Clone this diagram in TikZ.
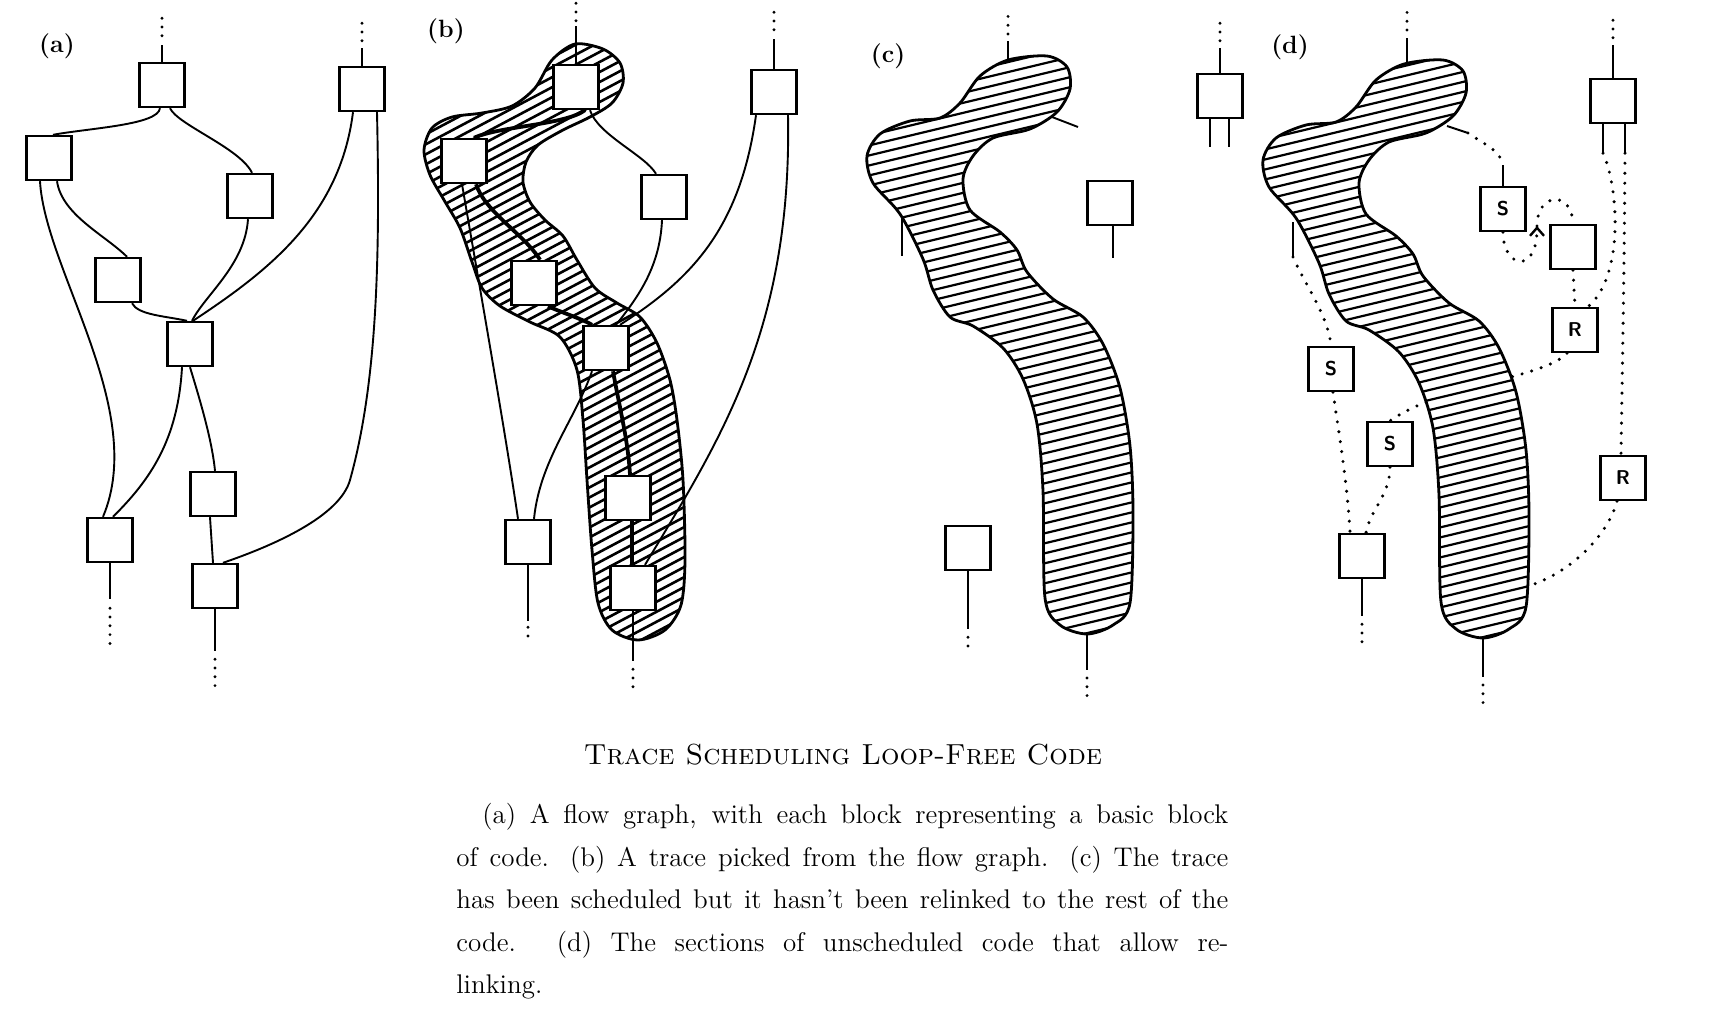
\documentclass[tikz,border=0pt]{standalone}
\usepackage{fontspec}
\usepackage{tikz}
\usetikzlibrary{arrows.meta,calc}
\tikzset{
  blk/.style={draw,fill=white,line width=1.2pt,minimum width=22.5pt,minimum height=22pt,inner sep=0pt,font=\sffamily\bfseries\fontsize{10}{12}\selectfont},
  edg/.style={line width=.95pt},
  tedg/.style={line width=1.9pt},
  dots/.style={line width=1.6pt,line cap=round,dash pattern=on 0pt off 4.4pt},
  ddots/.style={line width=1.7pt,line cap=round,dash pattern=on 0pt off 5pt},
  trc/.style={line width=1.4pt},
  hatch/.style={line width=1.1pt},
  lbl/.style={font=\bfseries\fontsize{12.5}{14}\selectfont},
  ttl/.style={font=\fontsize{14.5}{17}\selectfont},
  cpt/.style={anchor=north west,inner sep=0pt,text width=386pt,align=justify,font=\fontsize{13.5}{21.25}\selectfont},
}
% outline of the picked trace, panel (b)
\def\traceB{plot[smooth cycle] coordinates {(575,44) (603,49) (620,63) (623,83) (612,103) (590,117) (563,130) (538,145) (526,162) (523,182) (530,202) (545,220) (563,236) (577,260) (595,288) (617,303) (640,317) (657,343) (670,380) (677,420) (683,480) (685,560) (681,605) (665,630) (638,640) (612,630) (598,603) (592,550) (587,480) (583,420) (577,370) (560,337) (530,322) (500,306) (482,288) (472,262) (460,228) (444,200) (430,175) (424,150) (432,128) (452,117) (482,113) (512,106) (535,88) (552,60)}}
% outline of the scheduled trace, panels (c) and (d)
\def\traceCD{plot[smooth cycle] coordinates {(1008,60) (1047,56) (1067,67) (1070,89) (1057,112) (1030,129) (993,138) (973,156) (963,179) (970,210) (1000,232) (1017,250) (1027,272) (1053,299) (1083,317) (1103,344) (1120,388) (1130,446) (1133,513) (1130,603) (1113,625) (1087,634) (1060,625) (1045,598) (1043,491) (1037,424) (1023,379) (1003,348) (973,326) (950,317) (933,290) (923,259) (900,214) (873,183) (867,156) (880,134) (910,121) (940,118) (960,103) (980,76)}}
\begin{document}
\begin{tikzpicture}[x=0.5pt,y=-0.5pt]
  \useasboundingbox (0,0) rectangle (1718,1013);
  % ---------- (a) flow graph
  \node[lbl] (la) at (57,46) {(a)};
  \node[blk] (a1) at (162,85) {};
  \node[blk] (a2) at (362,89) {};
  \node[blk] (a3) at (49,158) {};
  \node[blk] (a4) at (250,196) {};
  \node[blk] (a5) at (118,280) {};
  \node[blk] (a6) at (190,344) {};
  \node[blk] (a7) at (213,494) {};
  \node[blk] (a8) at (110,540) {};
  \node[blk] (a9) at (215,586) {};
  \draw[edg] (a1.north) -- ++(0,-17);
  \draw[dots] (a1.north) ++(0,-26) -- ++(0,-24);
  \draw[edg] (a2.north) -- ++(0,-18);
  \draw[dots] (a2.north) ++(0,-25) -- ++(0,-22);
  \draw[edg] (a8.south) -- ++(0,36);
  \draw[dots] (a8.south) ++(0,45) -- ++(0,38);
  \draw[edg] (a9.south) -- ++(0,42);
  \draw[dots] (a9.south) ++(0,50) -- ++(0,34);
  \draw[edg] ([xshift=-1pt]a1.south) .. controls (158,125) and (90,128) .. ([xshift=2pt]a3.north);
  \draw[edg] ([xshift=4pt]a1.south) .. controls (178,125) and (240,148) .. ([xshift=1pt]a4.north);
  \draw[edg] ([xshift=-4.5pt]a2.south) .. controls (340,215) and (270,270) .. ([xshift=1.5pt]a6.north);
  \draw[edg] ([xshift=7.5pt]a2.south) .. controls (380,250) and (378,380) .. (350,480) .. controls (340,516) and (275,545) .. ([xshift=4pt]a9.north);
  \draw[edg] ([xshift=-4.5pt]a3.south) .. controls (45,270) and (148,410) .. ([xshift=-3.5pt]a8.north);
  \draw[edg] ([xshift=4pt]a3.south) .. controls (62,215) and (105,235) .. ([xshift=4.5pt]a5.north);
  \draw[edg] ([xshift=-1pt]a4.south) .. controls (245,265) and (205,295) .. ([xshift=1pt]a6.north);
  \draw[edg] ([xshift=7pt]a5.south) .. controls (138,315) and (165,316) .. ([xshift=-1.5pt]a6.north);
  \draw[edg] ([xshift=-4pt]a6.south) .. controls (178,440) and (150,480) .. ([xshift=1.5pt]a8.north);
  \draw[edg] (a6.south) .. controls (200,400) and (212,440) .. ([xshift=1pt]a7.north);
  \draw[edg] ([xshift=-1.5pt]a7.south) -- ([xshift=-1pt]a9.north);
  % ---------- (b) trace picked
  \node[lbl] (lb) at (446,31) {(b)};
  \fill[white] \traceB;
  \begin{scope}
    \clip \traceB;
    \foreach \h in {0,...,78} \draw[hatch,line width=1.3pt] (415,20+10*\h) -- ++(275,-146);
  \end{scope}
  \draw[trc] \traceB;
  \node[blk] (b1) at (576,87) {};
  \node[blk] (b2) at (774,92) {};
  \node[blk] (b3) at (464,161) {};
  \node[blk] (b4) at (664,197) {};
  \node[blk] (b5) at (534,283) {};
  \node[blk] (b6) at (606,348) {};
  \node[blk] (b7) at (628,498) {};
  \node[blk] (b8) at (528,542) {};
  \node[blk] (b9) at (633,588) {};
  \draw[edg] (b1.north) -- ++(0,-38);
  \draw[dots] (b1.north) ++(0,-43) -- ++(0,-19);
  \draw[edg] (b2.north) -- ++(0,-30);
  \draw[dots] (b2.north) ++(0,-39) -- ++(0,-22);
  \draw[edg] (b8.south) -- ++(0,56);
  \draw[dots] (b8.south) ++(0,62) -- ++(0,17);
  \draw[edg] (b9.south) -- ++(0,50);
  \draw[dots] (b9.south) ++(0,58) -- ++(0,22);
  \draw[tedg] ([xshift=4.5pt]b1.south) .. controls (565,125) and (500,126) .. ([xshift=5pt]b3.north);
  \draw[edg] ([xshift=7pt]b1.south) .. controls (598,135) and (645,155) .. ([xshift=-4pt]b4.north);
  \draw[edg] ([xshift=-9pt]b2.south) .. controls (740,230) and (690,280) .. ([xshift=7pt]b6.north);
  \draw[edg] ([xshift=7pt]b2.south) .. controls (792,330) and (720,440) .. ([xshift=6pt]b9.north);
  \draw[edg] ([xshift=-1pt]b3.south) .. controls (475,260) and (505,430) .. ([xshift=-5pt]b8.north);
  \draw[tedg] ([xshift=6pt]b3.south) .. controls (485,212) and (525,235) .. ([xshift=3pt]b5.north);
  \draw[edg] ([xshift=-1pt]b4.south) .. controls (660,265) and (640,295) .. ([xshift=5pt]b6.north);
  \draw[tedg] ([xshift=7pt]b5.south) .. controls (560,312) and (580,318) .. ([xshift=-7pt]b6.north);
  \draw[edg] ([xshift=-7pt]b6.south) .. controls (575,420) and (540,460) .. ([xshift=3pt]b8.north);
  \draw[tedg] ([xshift=3.5pt]b6.south) .. controls (620,410) and (628,440) .. ([xshift=1pt]b7.north);
  \draw[tedg] ([xshift=2pt]b7.south) -- ([xshift=-.5pt]b9.north);
  % ---------- (c) trace scheduled
  \node[lbl] (lc) at (888,56) {(c)};
  \fill[white] \traceCD;
  \begin{scope}
    \clip \traceCD;
    \foreach \h in {0,...,72} \draw[hatch] (850,30+10*\h) -- ++(300,-72);
  \end{scope}
  \draw[trc] \traceCD;
  \coordinate (ctop) at (1008,59);
  \coordinate (cright) at (1052,117);
  \coordinate (cleft) at (902,218);
  \coordinate (cbot) at (1087,634);
  \draw[edg] (ctop) -- ++(0,-18);
  \draw[dots] (ctop) ++(0,-25) -- ++(0,-22);
  \draw[edg] (cright) -- ++(26,10);
  \draw[edg] (cleft) -- ++(0,38);
  \draw[edg] (cbot) -- ++(0,36);
  \draw[dots] (cbot) ++(0,44) -- ++(0,22);
  \node[blk] (c1) at (1220,96) {};
  \node[blk] (c2) at (1110,203) {};
  \node[blk] (c3) at (968,548) {};
  \draw[edg] (c1.north) -- ++(0,-25);
  \draw[dots] (c1.north) ++(0,-32) -- ++(0,-20);
  \draw[edg] ([xshift=-5pt]c1.south) -- ++(0,28);
  \draw[edg] ([xshift=4.5pt]c1.south) -- ++(0,28);
  \draw[edg] ([xshift=1.5pt]c2.south) -- ++(0,32);
  \draw[edg] (c3.south) -- ++(0,58);
  \draw[dots] (c3.south) ++(0,66) -- ++(0,17);
  % ---------- (d) relinking code
  \node[lbl] (ld) at (1290,47) {(d)};
  \node[blk] (dY) at (1613,101) {};
  \node[blk] (dS1) at (1503,209) {S};
  \node[blk] (dX) at (1573,247) {};
  \node[blk] (dR1) at (1575,330) {R};
  \node[blk] (dR2) at (1623,478) {R};
  \node[blk] (dS2) at (1331,369) {S};
  \node[blk] (dS3) at (1390,444) {S};
  \node[blk] (dZ) at (1362,556) {};
  \coordinate (dtop) at (1407,63);
  \coordinate (dbr) at (1447,126);
  \coordinate (dleft) at (1293,222);
  \coordinate (dbot) at (1483,638);
  \coordinate (dbr3) at (1522,588);
  \coordinate (darr) at (1537,226);
  \draw[edg] (dY.north) -- ++(0,-33);
  \draw[dots] (dY.north) ++(0,-40) -- ++(0,-23);
  \draw[edg] ([xshift=-5pt]dY.south) -- ++(0,29) coordinate (dyl);
  \draw[edg] ([xshift=6pt]dY.south) -- ++(0,29) coordinate (dyr);
  \draw[edg] (dS1.north) -- ++(0,-21) coordinate (ds1t);
  \draw[edg] (dbr) -- ++(21,7) coordinate (dbr2);
  \draw[edg] (dleft) -- ++(0,35) coordinate (dleft2);
  \draw[ddots] (dbr2) .. controls (1485,145) and (1500,150) .. (ds1t);
  \draw[ddots,-{Straight Barb[length=4pt,width=7pt,line width=1.2pt]}] (dS1.south) .. controls (1503,268) and (1537,275) .. (darr);
  \draw[ddots] (darr) .. controls (1537,192) and (1572,190) .. (dX.north);
  \draw[ddots] (dX.south) -- (dR1.north);
  \draw[ddots] (dyl) .. controls (1618,185) and (1625,275) .. ([xshift=6.5pt]dR1.north);
  \draw[ddots] (dyr) .. controls (1624,300) and (1622,380) .. ([xshift=-1pt]dR2.north);
  \draw[ddots] ([xshift=-3pt]dR2.south) .. controls (1608,535) and (1570,575) .. (dbr3);
  \draw[ddots] ([xshift=-4pt]dR1.south) .. controls (1545,378) and (1440,385) .. (dS3.north);
  \draw[ddots] (dleft2) .. controls (1305,285) and (1328,315) .. (dS2.north);
  \draw[ddots] ([xshift=1pt]dS2.south) .. controls (1340,440) and (1348,490) .. ([xshift=-6pt]dZ.north);
  \draw[ddots] (dS3.south) .. controls (1390,495) and (1370,510) .. ([xshift=2pt]dZ.north);
  \draw[edg] (dZ.south) -- ++(0,37);
  \draw[dots] (dZ.south) ++(0,45) -- ++(0,22);
  \begin{scope}[shift={(396,4)}]
    \fill[white] \traceCD;
    \begin{scope}
      \clip \traceCD;
      \foreach \h in {0,...,72} \draw[hatch] (850,30+10*\h) -- ++(300,-72);
    \end{scope}
    \draw[trc] \traceCD;
  \end{scope}
  \draw[edg] (dtop) -- ++(0,-25);
  \draw[dots] (dtop) ++(0,-33) -- ++(0,-24);
  \draw[edg] (dbot) -- ++(0,39);
  \draw[dots] (dbot) ++(0,47) -- ++(0,25);
  % ---------- caption
  \node[ttl] (title) at (843,755) {\textsc{Trace Scheduling Loop-Free Code}};
  \node[cpt] (capt) at (456,803) {\tolerance=9999\hspace*{13pt}(a) A flow graph, with each block representing a basic block\linebreak of code.  (b) A trace picked from the flow graph.  (c) The trace\linebreak has been scheduled but it hasn't been relinked to the rest of the\linebreak code.  (d) The sections of unscheduled code that allow re-\linebreak linking.};
\end{tikzpicture}
\end{document}
